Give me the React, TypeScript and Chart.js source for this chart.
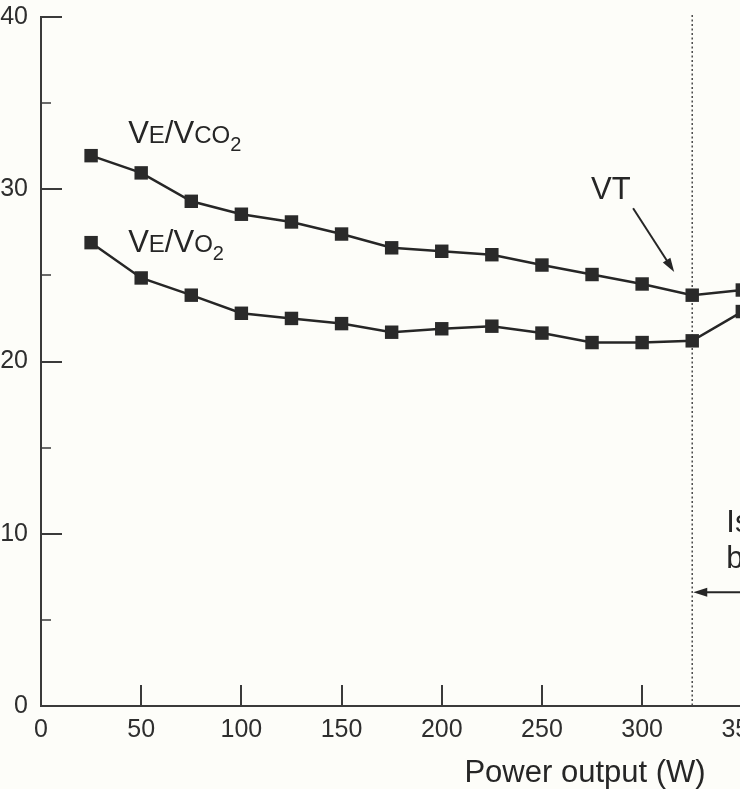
import React, { useEffect, useRef } from "react";
import { Chart, registerables } from "chart.js";

Chart.register(...registerables);

const powers = [25, 50, 75, 100, 125, 150, 175, 200, 225, 250, 275, 300, 325, 350];
const veVco2 = [31.95, 30.95, 29.3, 28.55, 28.1, 27.4, 26.6, 26.4, 26.2, 25.6, 25.05, 24.5, 23.85, 24.15];
const veVo2 = [26.9, 24.85, 23.85, 22.8, 22.5, 22.2, 21.7, 21.9, 22.05, 21.65, 21.1, 21.1, 21.2, 22.9];
const yMajorTicks = [0, 10, 20, 30, 40];
const yMinorTicks = [5, 15, 25, 35];
const xTicks = [50, 100, 150, 200, 250, 300, 350];
const vtPower = 325;
const xTitle = "Power output (W)";

const FONT = "'Liberation Sans', Arial, Helvetica, sans-serif";
const INK = "#262626";
const BG = "#fdfdf9";

function drawArrow(ctx: CanvasRenderingContext2D, x1: number, y1: number, x2: number, y2: number) {
  const ang = Math.atan2(y2 - y1, x2 - x1);
  const head = 14;
  const half = 4.5;
  ctx.save();
  ctx.strokeStyle = INK;
  ctx.fillStyle = INK;
  ctx.lineWidth = 2;
  ctx.beginPath();
  ctx.moveTo(x1, y1);
  ctx.lineTo(x2 - Math.cos(ang) * head * 0.8, y2 - Math.sin(ang) * head * 0.8);
  ctx.stroke();
  ctx.beginPath();
  ctx.moveTo(x2, y2);
  ctx.lineTo(x2 - Math.cos(ang) * head + Math.sin(ang) * half, y2 - Math.sin(ang) * head - Math.cos(ang) * half);
  ctx.lineTo(x2 - Math.cos(ang) * head - Math.sin(ang) * half, y2 - Math.sin(ang) * head + Math.cos(ang) * half);
  ctx.closePath();
  ctx.fill();
  ctx.restore();
}

function drawRich(ctx: CanvasRenderingContext2D, x: number, y: number, parts: { t: string; s: number; dy?: number }[]) {
  let cx = x;
  ctx.save();
  ctx.fillStyle = INK;
  ctx.textBaseline = "alphabetic";
  ctx.textAlign = "left";
  for (const p of parts) {
    ctx.font = `${p.s}px ${FONT}`;
    ctx.fillText(p.t, cx, y + (p.dy || 0));
    cx += ctx.measureText(p.t).width;
  }
  ctx.restore();
}

const decorPlugin = {
  id: "decor",
  beforeDraw(chart: any) {
    const { ctx, width, height } = chart;
    ctx.save();
    ctx.fillStyle = BG;
    ctx.fillRect(0, 0, width, height);
    ctx.restore();
  },
  beforeDatasetsDraw(chart: any) {
    const { ctx, chartArea, scales } = chart;
    const x = scales.x.getPixelForValue(vtPower);
    ctx.save();
    ctx.strokeStyle = "#4a4a4a";
    ctx.lineWidth = 1.5;
    ctx.setLineDash([2, 2.5]);
    ctx.beginPath();
    ctx.moveTo(x, chartArea.top - 2);
    ctx.lineTo(x, chartArea.bottom);
    ctx.stroke();
    ctx.restore();
  },
  afterDraw(chart: any) {
    const { ctx, chartArea, scales } = chart;
    const xs = scales.x;
    const ys = scales.y;
    ctx.save();
    ctx.strokeStyle = "#3a3a3a";
    ctx.lineWidth = 2;
    for (const v of yMajorTicks) {
      if (v === 0) continue;
      const py = Math.round(ys.getPixelForValue(v));
      ctx.beginPath();
      ctx.moveTo(chartArea.left, py);
      ctx.lineTo(chartArea.left + 21, py);
      ctx.stroke();
    }
    ctx.lineWidth = 1.5;
    for (const v of yMinorTicks) {
      const py = Math.round(ys.getPixelForValue(v));
      ctx.beginPath();
      ctx.moveTo(chartArea.left, py);
      ctx.lineTo(chartArea.left + 10, py);
      ctx.stroke();
    }
    ctx.lineWidth = 2;
    for (const v of xTicks) {
      const px = Math.round(xs.getPixelForValue(v));
      ctx.beginPath();
      ctx.moveTo(px, chartArea.bottom);
      ctx.lineTo(px, chartArea.bottom - 21);
      ctx.stroke();
    }
    ctx.restore();

    drawRich(ctx, xs.getPixelForValue(43.5), ys.getPixelForValue(32.7), [
      { t: "V", s: 31 },
      { t: "E", s: 24 },
      { t: "/", s: 31 },
      { t: "V", s: 31 },
      { t: "CO", s: 24 },
      { t: "2", s: 20, dy: 8 },
    ]);
    drawRich(ctx, xs.getPixelForValue(43.5), ys.getPixelForValue(26.35), [
      { t: "V", s: 31 },
      { t: "E", s: 24 },
      { t: "/", s: 31 },
      { t: "V", s: 31 },
      { t: "O", s: 24 },
      { t: "2", s: 20, dy: 8 },
    ]);
    drawRich(ctx, xs.getPixelForValue(274.5), ys.getPixelForValue(29.45), [{ t: "VT", s: 31 }]);
    drawArrow(
      ctx,
      xs.getPixelForValue(295.5),
      ys.getPixelForValue(28.9),
      xs.getPixelForValue(316),
      ys.getPixelForValue(25.2)
    );
    drawRich(ctx, xs.getPixelForValue(342), ys.getPixelForValue(10.1), [{ t: "Isocapnic", s: 31 }]);
    drawRich(ctx, xs.getPixelForValue(342), ys.getPixelForValue(8.0), [{ t: "buffering", s: 31 }]);
    drawArrow(
      ctx,
      xs.getPixelForValue(390),
      ys.getPixelForValue(6.6),
      xs.getPixelForValue(vtPower) + 1,
      ys.getPixelForValue(6.6)
    );

    ctx.save();
    ctx.fillStyle = INK;
    ctx.font = `31px ${FONT}`;
    ctx.textAlign = "center";
    ctx.textBaseline = "alphabetic";
    ctx.fillText(xTitle, xs.getPixelForValue(271.5), chartArea.bottom + 76);
    ctx.restore();
  },
};

export default function App() {
  const ref = useRef<HTMLCanvasElement | null>(null);
  useEffect(() => {
    if (!ref.current) return;
    const chart = new Chart(ref.current, {
      type: "line",
      data: {
        datasets: [
          {
            label: "VE/VCO2",
            data: powers.map((p, i) => ({ x: p, y: veVco2[i] })),
            borderColor: INK,
            borderWidth: 2.5,
            pointStyle: "rect",
            pointRadius: 9.5,
            pointBackgroundColor: "#2a2a2a",
            pointBorderWidth: 0,
            tension: 0,
            clip: false as any,
          },
          {
            label: "VE/VO2",
            data: powers.map((p, i) => ({ x: p, y: veVo2[i] })),
            borderColor: INK,
            borderWidth: 2.5,
            pointStyle: "rect",
            pointRadius: 9.5,
            pointBackgroundColor: "#2a2a2a",
            pointBorderWidth: 0,
            tension: 0,
            clip: false as any,
          },
        ],
      },
      options: {
        responsive: false,
        animation: false,
        events: [],
        layout: { padding: { top: 17, left: 0, right: 0, bottom: 0 } },
        plugins: { legend: { display: false }, tooltip: { enabled: false }, title: { display: false } },
        scales: {
          x: {
            type: "linear",
            min: 0,
            max: 400,
            grid: { display: false, drawTicks: false },
            border: { display: true, color: "#3a3a3a", width: 2 },
            ticks: {
              stepSize: 50,
              autoSkip: false,
              maxRotation: 0,
              padding: 9,
              color: "#2e2e2e",
              font: { family: FONT, size: 25 },
              callback: (v: any) => (Number(v) > 350 ? "" : String(v)),
            },
            afterFit: (s: any) => {
              s.height = 83;
              s.paddingLeft = 0;
              s.paddingRight = 0;
            },
          },
          y: {
            type: "linear",
            min: 0,
            max: 40,
            grid: { display: false, drawTicks: false },
            border: { display: true, color: "#3a3a3a", width: 2 },
            ticks: {
              stepSize: 10,
              padding: 13,
              color: "#2e2e2e",
              font: { family: FONT, size: 25 },
            },
            afterFit: (s: any) => {
              s.width = 41;
              s.paddingTop = 0;
              s.paddingBottom = 0;
            },
          },
        },
      },
      plugins: [decorPlugin],
    });
    return () => chart.destroy();
  }, []);

  return (
    <div style={{ width: 740, height: 789, overflow: "hidden", position: "relative", background: BG }}>
      <style>{`html,body{margin:0;padding:0;background:${BG};overflow:hidden;}`}</style>
      <canvas ref={ref} width={852} height={789} style={{ display: "block", width: 852, height: 789 }} />
    </div>
  );
}
